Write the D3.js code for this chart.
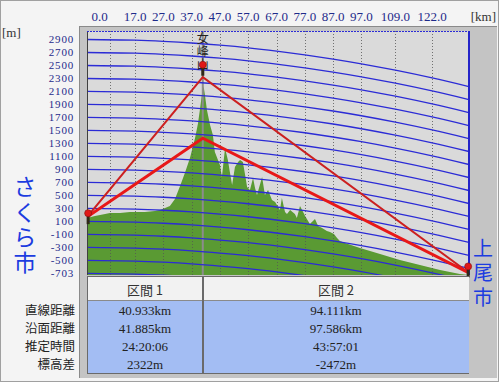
<!DOCTYPE html>
<html>
<head>
<meta charset="utf-8">
<script src="https://cdn.jsdelivr.net/npm/d3@7"></script>
<style>
  body { margin: 0; background: #f4f4f4; }
  svg { display: block; }
  .num { font-family: "Liberation Serif", "DejaVu Serif", serif; font-size: 13px; }
  .tick { font-family: "Liberation Serif", "DejaVu Serif", serif; font-size: 11px; letter-spacing: 0.8px; }
  .jp { font-family: "Noto Sans CJK JP", sans-serif; }
  .vert { font-family: "Noto Sans CJK JP", sans-serif; writing-mode: vertical-rl; }
</style>
</head>
<body>
<div id="chart"></div>
<script>
// data
const totalKm = 135.044;
const peakKm = 40.933;
const gridKm = [8, 17, 27, 37, 47, 57, 67, 77, 87, 97, 109, 122];
const xTickLabels = ['0.0', '17.0', '27.0', '37.0', '47.0', '57.0', '67.0', '77.0', '87.0', '97.0', '109.0', '122.0'];
const yTicks = [2900, 2700, 2500, 2300, 2100, 1900, 1700, 1500, 1300, 1100, 900, 700, 500, 300, 100, -100, -300, -500, -703];

// earth curvature drop (m) at distance (km)
const curveKm = [0, 17, 27, 37, 47, 57, 67, 77, 87, 97, 109, 122, 135.044];
const curveDrop = [0, 11, 29, 54, 88, 129, 179, 236, 301, 374, 473, 592, 725];
const curveBase = [2900, 2700, 2500, 2300, 2100, 1900, 1700, 1500, 1300, 1100, 900, 700, 500, 300, 100, -100, -300, -500, -700];

// terrain profile (apparent height, m)
const profileKm = [0, 2.8, 6.4, 8.1, 11.7, 15.2, 17.7, 20.5, 24.0, 25.8, 27.6, 29.3, 31.1, 32.9, 34.6, 36.4, 38.2, 39.2, 39.9, 40.6, 41.2, 41.7, 42.4, 43.5, 44.5, 45.2, 46.3, 47.0, 47.7, 48.8, 49.8, 50.5, 51.3, 52.3, 53.4, 54.1, 55.1, 55.9, 56.6, 57.6, 58.7, 59.4, 60.1, 61.9, 62.9, 64.0, 65.4, 66.5, 68.2, 68.9, 70.0, 70.7, 71.8, 73.5, 74.2, 75.3, 76.4, 77.1, 78.8, 80.6, 81.7, 83.1, 84.8, 85.9, 87.3, 88.4, 89.4, 91.2, 96.5, 103.6, 110.6, 117.7, 124.8, 131.8, 135.044];
const profileElev = [151, 182, 213, 228, 228, 243, 243, 243, 259, 274, 305, 336, 444, 644, 844, 1075, 1383, 1599, 1814, 2045, 2184, 2045, 1814, 1583, 1429, 1167, 1044, 967, 782, 1229, 1044, 859, 659, 936, 1013, 1044, 1013, 813, 628, 582, 767, 613, 505, 782, 505, 582, 428, 397, 274, 459, 243, 213, 274, 213, 151, 336, 243, 182, 59, 136, 28, -3, -49, -65, -95, -157, -203, -234, -311, -403, -496, -573, -650, -711, -726];

// lines of sight
const sightKm = [0, peakKm, totalKm];
const sightHigh = [165, 2320, -695];
const sightLow = [165, 1380, -695];

const peakName = '女峰山';
const startName = 'さくら市';
const endName = '上尾市';
const rowLabels = ['直線距離', '沿面距離', '推定時間', '標高差'];
const sectionNames = ['区間 1', '区間 2'];
const section1 = ['40.933km', '41.885km', '24:20:06', '2322m'];
const section2 = ['94.111km', '97.586km', '43:57:01', '-2472m'];

// chart setup
const W = 499, H = 382;
const plot = { left: 87, right: 469, top: 31, bottom: 275 };
const x = d3.scaleLinear().domain([0, totalKm]).range([plot.left, plot.right]);
const y = d3.scaleLinear().domain([-726, 3031]).range([plot.bottom, plot.top]);

const svg = d3.select('#chart').append('svg').attr('width', W).attr('height', H);

// page + frame
svg.append('rect').attr('x', 0.5).attr('y', 0.5).attr('width', W - 1).attr('height', H - 1)
  .attr('fill', '#f4f4f4').attr('stroke', '#a0a0a0');
svg.append('rect').attr('x', 79).attr('y', 26).attr('width', 418).attr('height', 352)
  .attr('fill', '#c4c4c4');
svg.append('line').attr('x1', 79.5).attr('x2', 79.5).attr('y1', 26).attr('y2', 378).attr('stroke', '#8a8a8a');
svg.append('line').attr('x1', 79).attr('x2', 497).attr('y1', 26.5).attr('y2', 26.5).attr('stroke', '#8a8a8a');

svg.append('defs').append('clipPath').attr('id', 'clip')
  .append('rect').attr('x', plot.left).attr('y', plot.top)
  .attr('width', plot.right - plot.left).attr('height', plot.bottom - plot.top);

svg.append('rect').attr('x', plot.left).attr('y', plot.top)
  .attr('width', plot.right - plot.left).attr('height', plot.bottom - plot.top)
  .attr('fill', '#dadada');

const g = svg.append('g').attr('clip-path', 'url(#clip)');

// terrain
const profile = profileKm.map((d, i) => ({ km: d, h: profileElev[i] }));
g.append('path')
  .datum(profile)
  .attr('fill', '#5a9a33')
  .attr('d', d3.area().x(d => x(d.km)).y0(plot.bottom).y1(d => y(d.h)));

// vertical grid
g.selectAll('.grid')
  .data(gridKm)
  .enter().append('line')
  .attr('class', 'grid')
  .attr('x1', d => Math.round(x(d)) + 0.5).attr('x2', d => Math.round(x(d)) + 0.5)
  .attr('y1', plot.top).attr('y2', plot.bottom)
  .attr('stroke', '#555').attr('stroke-opacity', 0.8)
  .attr('stroke-dasharray', '1,2');

// peak marker line
g.append('line')
  .attr('x1', x(peakKm)).attr('x2', x(peakKm))
  .attr('y1', plot.top).attr('y2', plot.bottom)
  .attr('stroke', '#8c8c8c').attr('stroke-width', 2);

// curvature lines
const curveLine = d3.line().x(d => x(d[0])).y(d => y(d[1])).curve(d3.curveMonotoneX);
g.selectAll('.curve')
  .data(curveBase)
  .enter().append('path')
  .attr('class', 'curve')
  .attr('fill', 'none')
  .attr('stroke', '#2b2bd6')
  .attr('stroke-width', 1.3)
  .attr('d', b => curveLine(curveKm.map((k, i) => [k, b - curveDrop[i]])));

// lines of sight
const sight = d3.line().x(d => x(d[0])).y(d => y(d[1]));
g.append('path')
  .attr('fill', 'none').attr('stroke', '#cc2020').attr('stroke-width', 2)
  .attr('d', sight(sightKm.map((k, i) => [k, sightHigh[i]])));
g.append('path')
  .attr('fill', 'none').attr('stroke', '#e81818').attr('stroke-width', 3)
  .attr('d', sight(sightKm.map((k, i) => [k, sightLow[i]])));

// plot borders
svg.append('line').attr('x1', plot.left + 0.5).attr('x2', plot.left + 0.5)
  .attr('y1', plot.top).attr('y2', plot.bottom).attr('stroke', '#404040');
svg.append('line').attr('x1', plot.left).attr('x2', plot.right)
  .attr('y1', plot.top + 0.5).attr('y2', plot.top + 0.5)
  .attr('stroke', '#2b2bd6').attr('stroke-dasharray', '2,1');
svg.append('line').attr('x1', plot.right).attr('x2', plot.right)
  .attr('y1', plot.top).attr('y2', plot.bottom)
  .attr('stroke', '#2424c8').attr('stroke-width', 2);

// peak label (vertical)
svg.append('text')
  .attr('class', 'vert')
  .attr('x', x(peakKm))
  .attr('y', 32)
  .style('font-size', '12px')
  .style('letter-spacing', '1px')
  .style('fill', '#222')
  .text(peakName);

// markers
function marker(km, h) {
  const cx = x(km), cy = y(h);
  svg.append('rect').attr('x', cx - 1.5).attr('y', cy - 2).attr('width', 3).attr('height', 9)
    .attr('fill', '#302818');
  svg.append('circle').attr('cx', cx).attr('cy', cy - 4).attr('r', 3.5)
    .attr('fill', '#e01818').attr('stroke', '#801010').attr('stroke-width', 0.6);
}
marker(0.4, sightHigh[0]);
marker(peakKm, 2450);
marker(totalKm - 0.3, sightHigh[2] + 40);

// x labels
svg.selectAll('.x-label')
  .data(xTickLabels)
  .enter().append('text')
  .attr('class', 'num')
  .attr('x', (d, i) => i === 0 ? x(gridKm[i]) - 2 : x(gridKm[i]))
  .attr('y', 21)
  .attr('text-anchor', (d, i) => i === 0 ? 'end' : 'middle')
  .style('fill', '#1e2a8a')
  .text(d => d);
svg.append('text').attr('class', 'num').attr('x', 496).attr('y', 21)
  .attr('text-anchor', 'end').style('fill', '#333').text('[km]');

// y labels
svg.selectAll('.y-label')
  .data(yTicks)
  .enter().append('text')
  .attr('class', 'tick')
  .attr('x', 74)
  .attr('y', d => y(d) + 3.5)
  .attr('text-anchor', 'end')
  .style('fill', '#1e2a8a')
  .text(d => d);
svg.append('text').attr('class', 'num').attr('x', 2).attr('y', 37)
  .style('fill', '#333').text('[m]');

// place names (vertical)
svg.append('text')
  .attr('class', 'vert')
  .attr('x', 25).attr('y', 175)
  .style('font-size', '23px').style('letter-spacing', '2.3px')
  .style('fill', '#1c3ce0')
  .text(startName);
svg.append('text')
  .attr('class', 'vert')
  .attr('x', 483).attr('y', 238)
  .style('font-size', '20px').style('letter-spacing', '4.5px')
  .style('fill', '#1c3ce0')
  .text(endName);

// table
const sepX = Math.round(x(peakKm));
const cols = [(plot.left + sepX) / 2, (sepX + plot.right) / 2];
const rows = d3.scaleBand().domain(rowLabels).range([301, 374]);

svg.append('rect').attr('x', plot.left).attr('y', 277).attr('width', plot.right - plot.left).attr('height', 23)
  .attr('fill', '#f2f2f2');
svg.append('rect').attr('x', plot.left).attr('y', 300).attr('width', plot.right - plot.left).attr('height', 73)
  .attr('fill', '#a3bdf3');
svg.append('line').attr('x1', plot.left).attr('x2', plot.right).attr('y1', 276.5).attr('y2', 276.5).attr('stroke', '#6a6a6a');
svg.append('line').attr('x1', plot.left).attr('x2', plot.right).attr('y1', 300.5).attr('y2', 300.5).attr('stroke', '#8a8a8a');
svg.append('line').attr('x1', plot.left).attr('x2', plot.right).attr('y1', 373.5).attr('y2', 373.5).attr('stroke', '#6a6a6a');
svg.append('line').attr('x1', plot.left + 0.5).attr('x2', plot.left + 0.5).attr('y1', 277).attr('y2', 374).attr('stroke', '#6a6a6a');
svg.append('line').attr('x1', sepX).attr('x2', sepX).attr('y1', 277).attr('y2', 374)
  .attr('stroke', '#6a6a6a').attr('stroke-width', 2);

svg.selectAll('.head')
  .data(sectionNames)
  .enter().append('text')
  .attr('class', 'jp')
  .attr('x', (d, i) => cols[i]).attr('y', 294.5)
  .attr('text-anchor', 'middle')
  .style('font-size', '13px').style('fill', '#333')
  .text(d => d);

svg.selectAll('.row-label')
  .data(rowLabels)
  .enter().append('text')
  .attr('class', 'jp')
  .attr('x', 75).attr('y', d => rows(d) + rows.bandwidth() / 2 + 4.5)
  .attr('text-anchor', 'end')
  .style('font-size', '12.5px').style('fill', '#222')
  .text(d => d);

[section1, section2].forEach((vals, c) => {
  svg.selectAll('.cell' + c)
    .data(vals)
    .enter().append('text')
    .attr('class', 'num')
    .attr('x', cols[c])
    .attr('y', (d, i) => rows(rowLabels[i]) + rows.bandwidth() / 2 + 4.5)
    .attr('text-anchor', 'middle')
    .style('fill', '#222')
    .text(d => d);
});
</script>
</body>
</html>
